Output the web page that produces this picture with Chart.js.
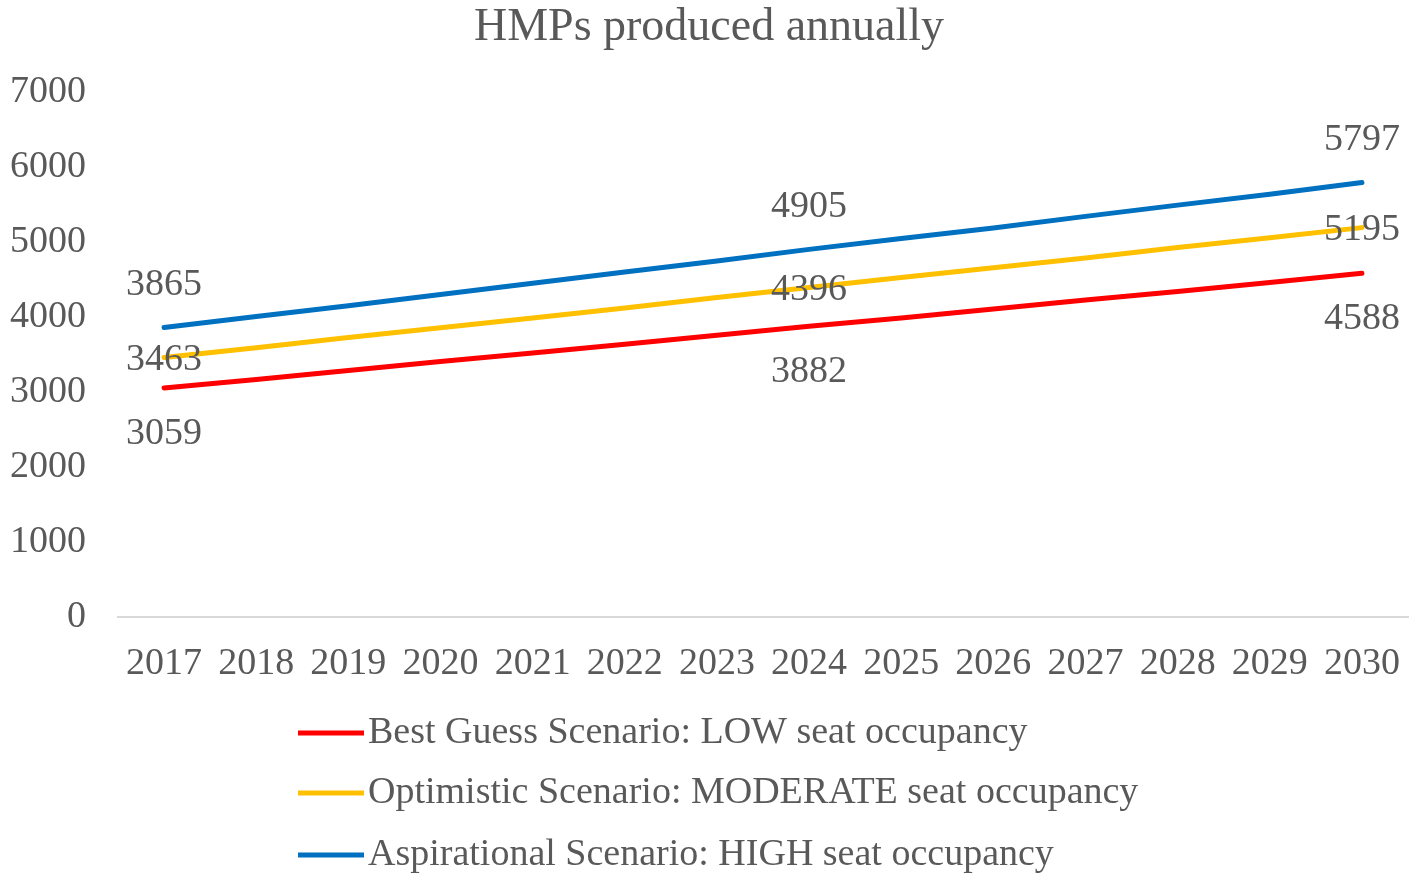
<!DOCTYPE html>
<html>
<head>
<meta charset="utf-8">
<script src="https://cdn.jsdelivr.net/npm/chart.js@4/dist/chart.umd.min.js"></script>
<style>
  html, body { margin: 0; padding: 0; background: #fff; }
  #wrap { width: 1417px; height: 881px; }
</style>
</head>
<body>
<div id="wrap"><canvas id="chartHmp"></canvas></div>
<script>
// Données
const years = ['2017', '2018', '2019', '2020', '2021', '2022', '2023', '2024', '2025', '2026', '2027', '2028', '2029', '2030'];
const lowSeat = [3059, 3170, 3290, 3410, 3525, 3640, 3760, 3882, 3990, 4110, 4230, 4345, 4465, 4588];
const moderateSeat = [3463, 3595, 3730, 3860, 3990, 4125, 4265, 4396, 4530, 4660, 4790, 4930, 5060, 5195];
const highSeat = [3865, 4010, 4155, 4305, 4455, 4605, 4750, 4905, 5050, 5190, 5345, 5495, 5640, 5797];
const yTicks = [0, 1000, 2000, 3000, 4000, 5000, 6000, 7000];
const labelledIdx = [0, 7, 13];

const textColor = '#595959';
const serif = "'Liberation Serif', 'Times New Roman', serif";

// Étiquettes de valeurs (2017, 2024, 2030)
const valueLabels = {
    id: 'valueLabels',
    afterDatasetsDraw(chart) {
        const ctx = chart.ctx;
        const offsets = [46, 2, -42];
        ctx.save();
        ctx.font = '38px ' + serif;
        ctx.fillStyle = textColor;
        ctx.textAlign = 'center';
        ctx.textBaseline = 'middle';
        chart.data.datasets.forEach((ds, i) => {
            const meta = chart.getDatasetMeta(i);
            labelledIdx.forEach(j => {
                const pt = meta.data[j];
                ctx.fillText(String(ds.data[j]), pt.x, pt.y + offsets[i]);
            });
        });
        ctx.restore();
    }
};

// Légende verticale alignée à gauche
const stackedLegend = {
    id: 'stackedLegend',
    afterDraw(chart) {
        const ctx = chart.ctx;
        const rows = [733, 793, 855];
        ctx.save();
        ctx.font = '38px ' + serif;
        ctx.textBaseline = 'middle';
        ctx.textAlign = 'left';
        chart.data.datasets.forEach((ds, i) => {
            ctx.strokeStyle = ds.borderColor;
            ctx.lineWidth = 5;
            ctx.beginPath();
            ctx.moveTo(298, rows[i]);
            ctx.lineTo(364, rows[i]);
            ctx.stroke();
            ctx.fillStyle = textColor;
            ctx.fillText(ds.label, 368, rows[i]);
        });
        ctx.restore();
    }
};

new Chart(document.getElementById('chartHmp'), {
    type: 'line',
    data: {
        labels: years,
        datasets: [{
            label: 'Best Guess Scenario: LOW seat occupancy',
            data: lowSeat,
            borderColor: '#FF0000',
            backgroundColor: '#FF0000',
            borderWidth: 5,
            pointRadius: 0,
            borderCapStyle: 'round'
        }, {
            label: 'Optimistic Scenario: MODERATE seat occupancy',
            data: moderateSeat,
            borderColor: '#FFC000',
            backgroundColor: '#FFC000',
            borderWidth: 5,
            pointRadius: 0,
            borderCapStyle: 'round'
        }, {
            label: 'Aspirational Scenario: HIGH seat occupancy',
            data: highSeat,
            borderColor: '#0070C0',
            backgroundColor: '#0070C0',
            borderWidth: 5,
            pointRadius: 0,
            borderCapStyle: 'round'
        }]
    },
    options: {
        responsive: true,
        maintainAspectRatio: false,
        animation: false,
        layout: {
            autoPadding: false,
            padding: { top: 0, left: 10, right: 9, bottom: 170 }
        },
        plugins: {
            legend: { display: false },
            tooltip: { enabled: false },
            title: {
                display: true,
                text: 'HMPs produced annually',
                color: textColor,
                font: { family: serif, size: 46, weight: 'normal' },
                padding: { top: 0, bottom: 37 }
            }
        },
        scales: {
            x: {
                offset: true,
                // pas de marge pour le dernier libellé, la zone va jusqu'au bord
                afterFit(axis) {
                    axis.paddingLeft = 0;
                    axis.paddingRight = 0;
                },
                grid: { display: false, drawTicks: false },
                border: { display: true, color: '#D9D9D9', width: 2 },
                ticks: {
                    color: textColor,
                    font: { family: serif, size: 38 },
                    padding: 24,
                    maxRotation: 0,
                    autoSkip: false
                }
            },
            y: {
                min: 0,
                max: 7000,
                afterBuildTicks(axis) {
                    axis.ticks = yTicks.map(v => ({ value: v }));
                },
                // largeur fixe : libellés + 32 px d'écart
                afterFit(axis) {
                    axis.width = 108;
                },
                grid: { display: false, drawTicks: false },
                border: { display: false },
                ticks: {
                    color: textColor,
                    font: { family: serif, size: 38 },
                    padding: 32,
                    callback: value => String(value)
                }
            }
        }
    },
    plugins: [valueLabels, stackedLegend]
});
</script>
</body>
</html>
